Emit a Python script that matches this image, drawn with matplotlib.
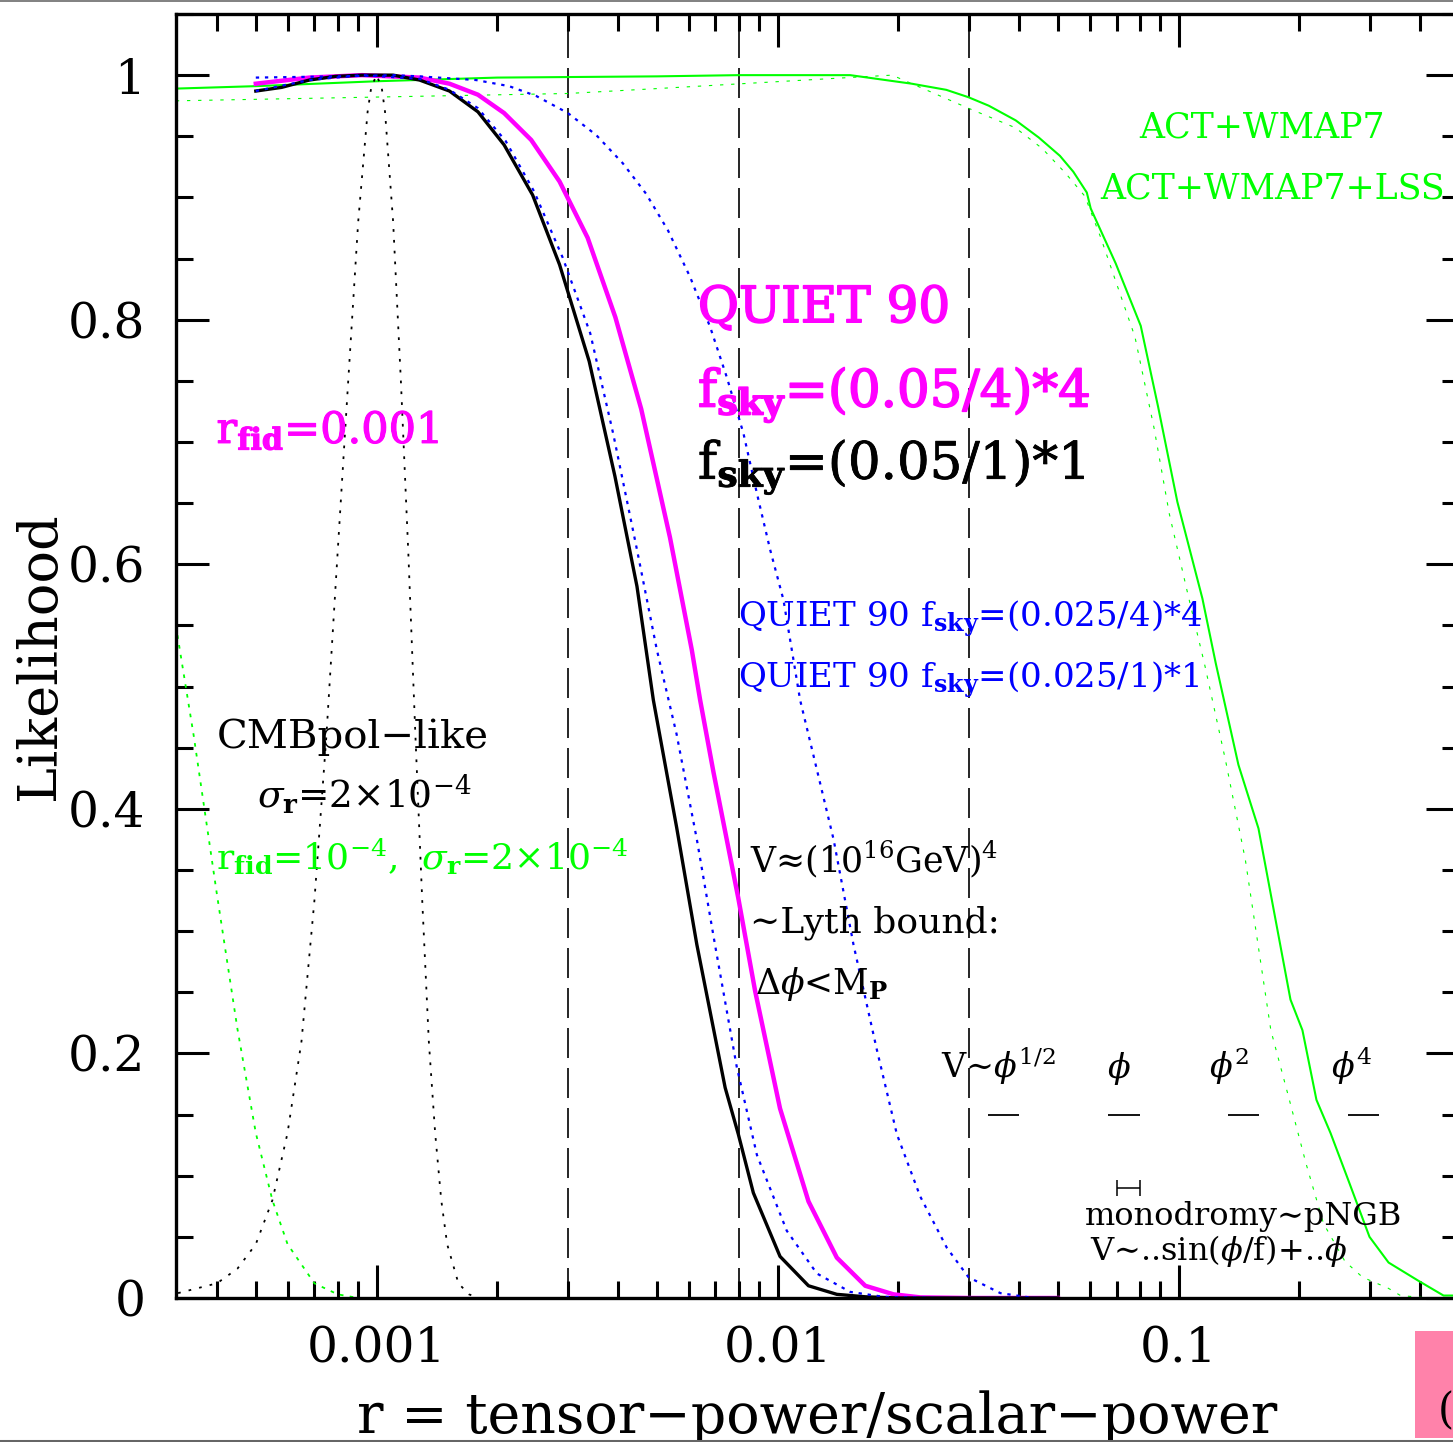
import matplotlib.pyplot as plt
import matplotlib.patheffects as pe
from matplotlib.patches import Rectangle
from matplotlib.lines import Line2D
from matplotlib.ticker import MultipleLocator, LogLocator, NullFormatter

plt.rcParams['font.family'] = ['DejaVu Serif', 'DejaVu Sans']
plt.rcParams['mathtext.fontset'] = 'dejavuserif'

MAGENTA = '#ff00ff'
GREEN = '#00ff00'
BLUE = '#0000ff'

# QUIET 90, f_sky=(0.05/1)*1
r_q05_1 = [0.00050, 0.00058, 0.00068, 0.00079, 0.00092, 0.00110, 0.00128, 0.00152,
           0.00179, 0.00208, 0.00245, 0.00286, 0.00339, 0.00393, 0.00446, 0.00490,
           0.00560, 0.00629, 0.00740, 0.00798, 0.00870, 0.01014, 0.01194, 0.01405,
           0.01654, 0.0200, 0.0300, 0.0500]
L_q05_1 = [0.987, 0.990, 0.996, 0.999, 1.000, 1.000, 0.996, 0.987,
           0.970, 0.943, 0.902, 0.845, 0.766, 0.672, 0.582, 0.489,
           0.385, 0.289, 0.172, 0.134, 0.086, 0.034, 0.010, 0.003,
           0.001, 0.0, 0.0, 0.0]

# QUIET 90, f_sky=(0.05/4)*4
r_q05_4 = [0.00050, 0.00068, 0.00092, 0.00128, 0.00152, 0.00179, 0.00208, 0.00243,
           0.00286, 0.00336, 0.00394, 0.00457, 0.00539, 0.00611, 0.00641, 0.00692,
           0.00798, 0.00879, 0.01014, 0.01194, 0.01405, 0.01654, 0.01945, 0.02268,
           0.0300, 0.0500]
L_q05_4 = [0.993, 0.998, 1.000, 0.998, 0.993, 0.984, 0.969, 0.947,
           0.913, 0.867, 0.802, 0.727, 0.622, 0.530, 0.489, 0.430,
           0.327, 0.251, 0.155, 0.079, 0.033, 0.010, 0.003, 0.0005,
           0.0, 0.0]

# QUIET 90, f_sky=(0.025/4)*4
r_q025_4 = [0.00050, 0.00068, 0.00092, 0.00128, 0.00152, 0.00179, 0.00210, 0.00247,
            0.00291, 0.00341, 0.00389, 0.00446, 0.00500, 0.00560, 0.00629, 0.00698,
            0.00791, 0.00888, 0.01054, 0.01253, 0.01517, 0.01834, 0.0250, 0.0500]
L_q025_4 = [0.987, 0.996, 1.000, 0.997, 0.988, 0.973, 0.946, 0.905,
            0.851, 0.789, 0.707, 0.612, 0.530, 0.461, 0.375, 0.289,
            0.189, 0.117, 0.055, 0.020, 0.005, 0.001, 0.0, 0.0]

# QUIET 90, f_sky=(0.025/1)*1
r_q025_1 = [0.00050, 0.00080, 0.00110, 0.00128, 0.00177, 0.00214, 0.00250, 0.00300,
            0.00353, 0.00411, 0.00470, 0.00533, 0.00605, 0.00679, 0.00747, 0.00822,
            0.00888, 0.00958, 0.01034, 0.01085, 0.01138, 0.01228, 0.01379, 0.01546,
            0.01768, 0.01983, 0.02268, 0.02643, 0.02992, 0.03592, 0.04341, 0.0500]
L_q025_1 = [0.998, 0.999, 1.000, 0.999, 0.996, 0.991, 0.983, 0.969,
            0.951, 0.928, 0.903, 0.873, 0.835, 0.794, 0.753, 0.707,
            0.658, 0.612, 0.571, 0.530, 0.489, 0.444, 0.375, 0.289,
            0.203, 0.134, 0.083, 0.041, 0.017, 0.004, 0.0, 0.0]

# ACT+WMAP7
r_act = [0.000316, 0.0005, 0.001, 0.002, 0.005, 0.008, 0.01517, 0.02160,
         0.02633, 0.02988, 0.03362, 0.03924, 0.04479, 0.05058, 0.05462, 0.05902,
         0.06035, 0.06967, 0.08043, 0.08884, 0.09926, 0.11460, 0.12374, 0.14093,
         0.15812, 0.19002, 0.20351, 0.22057, 0.23907, 0.26509, 0.29909, 0.33368,
         0.39645, 0.45756, 0.5]
L_act = [0.989, 0.991, 0.995, 0.998, 0.999, 1.000, 1.000, 0.993,
         0.988, 0.982, 0.975, 0.963, 0.949, 0.934, 0.921, 0.904,
         0.891, 0.846, 0.795, 0.729, 0.651, 0.572, 0.519, 0.436,
         0.384, 0.244, 0.219, 0.162, 0.135, 0.096, 0.050, 0.029,
         0.014, 0.002, 0.002]

# ACT+WMAP7+LSS
r_act_lss = [0.000316, 0.003, 0.005, 0.015, 0.0193, 0.02988, 0.03915, 0.04570,
             0.05217, 0.05836, 0.06379, 0.07112, 0.07780, 0.08687, 0.09480, 0.10603,
             0.11591, 0.13080, 0.14670, 0.16975, 0.18777, 0.20774, 0.22961, 0.25972,
             0.28730, 0.33306, 0.35735, 0.42, 0.5]
L_act_lss = [0.979, 0.985, 0.989, 0.998, 1.000, 0.973, 0.957, 0.940,
             0.920, 0.901, 0.868, 0.823, 0.786, 0.711, 0.641, 0.572,
             0.519, 0.440, 0.358, 0.219, 0.165, 0.110, 0.061, 0.030,
             0.017, 0.008, 0.002, 0.0, 0.0]

# CMBpol-like, r_fid=0.001, sigma_r=2e-4
r_cmbpol = [0.00032, 0.0004, 0.00045, 0.0005, 0.00055, 0.0006, 0.00065, 0.0007, 0.00075,
            0.0008, 0.00085, 0.0009, 0.00095, 0.00097, 0.0010, 0.00103, 0.00105, 0.0011,
            0.00115, 0.0012, 0.00125, 0.0013, 0.00135, 0.0014, 0.00145, 0.0015, 0.0016,
            0.0017, 0.0018]
L_cmbpol = [0.004, 0.012, 0.024, 0.044, 0.08, 0.135, 0.21, 0.325, 0.46,
            0.61, 0.75, 0.88, 0.97, 0.99, 1.0, 0.99, 0.97, 0.88,
            0.75, 0.61, 0.46, 0.325, 0.21, 0.135, 0.08, 0.044, 0.012,
            0.003, 0.0]

# CMBpol-like, r_fid=1e-4, sigma_r=2e-4
r_cmbpol_low = [0.000316, 0.00035, 0.0004, 0.00045, 0.0005, 0.00055, 0.0006, 0.0007,
                0.0008, 0.0009, 0.5]
L_cmbpol_low = [0.55, 0.46, 0.33, 0.22, 0.135, 0.08, 0.044, 0.012,
                0.003, 0.0, 0.0]

# Lyth bound / V ~ (1e16 GeV)^4 markers
r_vlines = [0.003, 0.008, 0.03]

# large-field model predictions (r range)
model_names = ['V\u223c$\\phi^{1/2}$', '$\\phi$', '$\\phi^2$', '$\\phi^4$']
model_rmin = [0.0334, 0.0666, 0.133, 0.264]
model_rmax = [0.0399, 0.0802, 0.159, 0.315]
model_label_r = [0.0256, 0.0664, 0.1193, 0.2404]
model_level = 0.150
mono_rmin, mono_rmax, mono_level = 0.0700, 0.0802, 0.090

fig = plt.figure(figsize=(14.53, 14.42), dpi=100)
ax = fig.add_axes([176 / 1453, 144 / 1442, 1283 / 1453, 1284 / 1442])

for r in r_vlines:
    ax.axvline(r, color='k', lw=1.2, dashes=(18, 6))

ax.plot(r_cmbpol_low, L_cmbpol_low, color=GREEN, lw=1.3, dashes=(2, 3.5))
ax.plot(r_act_lss, L_act_lss, color=GREEN, lw=0.8, dashes=(3, 7))
ax.plot(r_act, L_act, color=GREEN, lw=1.5)
ax.plot(r_cmbpol, L_cmbpol, color='k', lw=1.3, dashes=(1.5, 4.5))
ax.plot(r_q05_4, L_q05_4, color=MAGENTA, lw=3.2)
ax.plot(r_q05_1, L_q05_1, color='k', lw=2.4)
ax.plot(r_q025_4, L_q025_4, color=BLUE, lw=1.6, dashes=(1.5, 2.6))
ax.plot(r_q025_1, L_q025_1, color=BLUE, lw=1.6, dashes=(1.5, 2.6))

ax.hlines([model_level] * 4, model_rmin, model_rmax, color='k', lw=1.3)
for name, rl in zip(model_names, model_label_r):
    ax.text(rl, 0.180, name, fontsize=24, va='baseline')
mono_c = (mono_rmin + mono_rmax) / 2
ax.errorbar([mono_c], [mono_level], xerr=[[mono_c - mono_rmin], [mono_rmax - mono_c]],
            fmt='none', ecolor='k', elinewidth=1.1, capsize=6, capthick=1.1)

ax.set_xscale('log')
ax.set_xlim(10 ** -3.5, 0.5)
ax.set_ylim(0, 1.05)

ax.set_xticks([0.001, 0.01, 0.1])
ax.set_xticklabels(['0.001', '0.01', '0.1'])
ax.xaxis.set_minor_locator(LogLocator(base=10, subs=range(2, 10)))
ax.xaxis.set_minor_formatter(NullFormatter())
ax.set_yticks([0, 0.2, 0.4, 0.6, 0.8, 1.0])
ax.set_yticklabels(['0', '0.2', '0.4', '0.6', '0.8', '1'])
ax.yaxis.set_minor_locator(MultipleLocator(0.05))

ax.tick_params(which='both', direction='in', top=True, right=True, width=2.2)
ax.tick_params(which='major', length=24, labelsize=35)
ax.tick_params(which='minor', length=12)
ax.tick_params(axis='x', pad=20)
ax.tick_params(axis='y', pad=22)
for sp in ax.spines.values():
    sp.set_linewidth(2.4)

ax.set_xlabel('r = tensor\u2212power/scalar\u2212power', fontsize=40)
ax.xaxis.set_label_coords(0.5, -0.1050)
ax.xaxis.label.set_verticalalignment('baseline')
ax.set_ylabel('Likelihood', fontsize=39)
ax.yaxis.set_label_coords(-0.0943, 0.5)
ax.yaxis.label.set_verticalalignment('baseline')

thick = lambda c, w=1.2: [pe.withStroke(linewidth=w, foreground=c)]

ax.text(0.0798, 0.949, 'ACT+WMAP7', color=GREEN, fontsize=25, va='baseline')
ax.text(0.0638, 0.899, 'ACT+WMAP7+LSS', color=GREEN, fontsize=25, va='baseline')

ax.text(0.00633, 0.798, 'QUIET 90', color=MAGENTA, fontsize=36, va='baseline',
        path_effects=thick(MAGENTA))
ax.text(0.00633, 0.729, 'f$_{\\mathbf{sky}}$=(0.05/4)*4', color=MAGENTA, fontsize=37,
        va='baseline', path_effects=thick(MAGENTA))
ax.text(0.00633, 0.670, 'f$_{\\mathbf{sky}}$=(0.05/1)*1', color='k', fontsize=37,
        va='baseline', path_effects=thick('k', 0.6))
ax.text(0.000399, 0.699, 'r$_{\\mathbf{fid}}$=0.001', color=MAGENTA, fontsize=31,
        va='baseline', path_effects=thick(MAGENTA, 0.8))

ax.text(0.00797, 0.549, 'QUIET 90 f$_{\\mathbf{sky}}$=(0.025/4)*4', color=BLUE,
        fontsize=24.5, va='baseline')
ax.text(0.00797, 0.499, 'QUIET 90 f$_{\\mathbf{sky}}$=(0.025/1)*1', color=BLUE,
        fontsize=24.5, va='baseline')

ax.text(0.000399, 0.450, 'CMBpol\u2212like', fontsize=29, va='baseline')
ax.text(0.000503, 0.401, '$\\sigma_{\\mathbf{r}}$=2\u00d710$^{-4}$', fontsize=27,
        va='baseline')
ax.text(0.000399, 0.350,
        'r$_{\\mathbf{fid}}$=10$^{-4}$,  $\\sigma_{\\mathbf{r}}$=2\u00d710$^{-4}$',
        color=GREEN, fontsize=26, va='baseline')

ax.text(0.00854, 0.348, 'V\u2248(10$^{16}$GeV)$^4$', fontsize=25, va='baseline')
ax.text(0.00854, 0.299, '\u223cLyth bound:', fontsize=26, va='baseline')
ax.text(0.00879, 0.249, '\u0394$\\phi$<M$_{\\mathbf{P}}$', fontsize=25, va='baseline')

ax.text(0.05852, 0.0597, 'monodromy\u223cpNGB', fontsize=23, va='baseline')
ax.text(0.06022, 0.0311, 'V\u223c..sin($\\phi$/f)+..$\\phi$', fontsize=23, va='baseline')

# page furniture around the plot
fig.patches.append(Rectangle((1415 / 1453, 4 / 1442), 40 / 1453, 107 / 1442,
                             transform=fig.transFigure, facecolor='#ff82aa',
                             edgecolor='none', zorder=0))
fig.text(1438 / 1453, 19 / 1442, '(C)', fontsize=30, va='baseline')
fig.add_artist(Line2D([0, 1], [1 - 0.8 / 1442, 1 - 0.8 / 1442], transform=fig.transFigure,
                      color='#808080', lw=1.4))
fig.add_artist(Line2D([0, 1], [1.4 / 1442, 1.4 / 1442], transform=fig.transFigure,
                      color='#666666', lw=2.2))

fig.savefig('out.png', dpi=100)
